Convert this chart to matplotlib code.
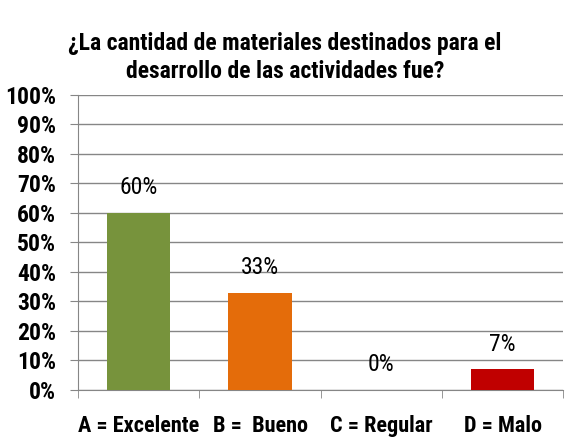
import matplotlib.pyplot as plt
from matplotlib.ticker import FixedLocator

categorias = ["A = Excelente", "B =  Bueno", "C = Regular", "D = Malo"]
porcentajes = [60, 33, 0, 7]
etiquetas = ["60%", "33%", "0%", "7%"]
colores = ["#77933C", "#E46C0A", "#4F81BD", "#C00000"]
marcas_y = list(range(0, 101, 10))

plt.rcParams["font.family"] = ["Roboto Condensed", "DejaVu Sans"]

fig = plt.figure(figsize=(5.66, 4.45), dpi=100)
ax = fig.add_axes([0.138, 0.1236, 0.857, 0.663])

x = list(range(len(categorias)))
ax.bar(x, porcentajes, width=0.52, color=colores, zorder=3)

for i, v in enumerate(porcentajes):
    ax.text(i, v + 8.5, etiquetas[i], ha="center", va="center", fontsize=17)

ax.set_xlim(-0.5, 3.5)
ax.set_ylim(0, 100)
ax.yaxis.set_major_locator(FixedLocator(marcas_y))
ax.set_yticklabels([f"{v}%" for v in marcas_y], fontsize=17, fontweight="bold")
ax.set_xticks(x)
ax.set_xticklabels(categorias, fontsize=16, fontweight="bold")
ax.tick_params(axis="x", length=0, pad=18)
ax.xaxis.set_minor_locator(FixedLocator([-0.5, 0.5, 1.5, 2.5, 3.5]))
ax.tick_params(axis="x", which="minor", length=6, color="#868686", direction="out")
ax.tick_params(axis="y", length=6, color="#868686", pad=10)

ax.grid(axis="y", color="#868686", linewidth=1, zorder=0)
for s in ["top", "right"]:
    ax.spines[s].set_visible(False)
ax.spines["left"].set_color("#868686")
ax.spines["bottom"].set_color("#868686")

fig.text(0.503, 0.871, "¿La cantidad de materiales destinados para el\ndesarrollo de las actividades fue?",
         ha="center", va="center", fontsize=17, fontweight="bold", linespacing=1.3)

fig.savefig("out.png", dpi=100)
